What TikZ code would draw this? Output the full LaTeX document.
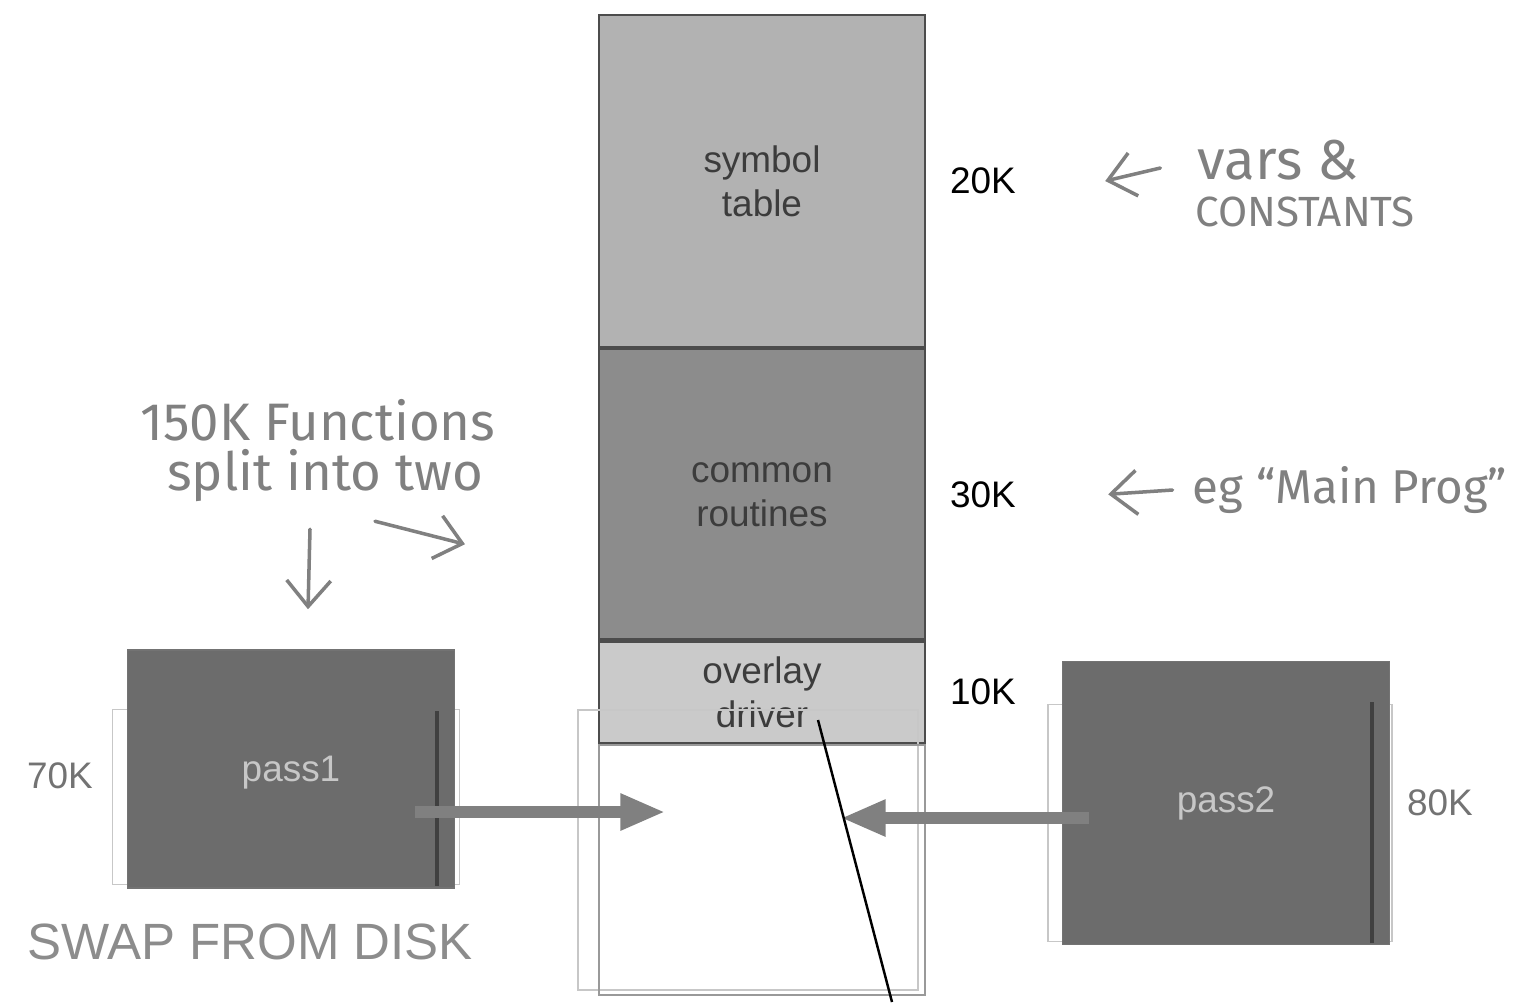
\documentclass[tikz,border=0pt]{standalone}
\usepackage{fontspec}
\setmainfont{Liberation Sans}
\newfontfamily\handfont{Fira Sans}
\usepackage{xcolor}
\usetikzlibrary{arrows.meta,positioning,calc}
\definecolor{symfill}{HTML}{B2B2B2}
\definecolor{comfill}{HTML}{8C8C8C}
\definecolor{ovlfill}{HTML}{CACACA}
\definecolor{passfill}{HTML}{6C6C6C}
\definecolor{inktext}{HTML}{3C3C3C}
\definecolor{pencil}{HTML}{808080}

\begin{document}
\begin{tikzpicture}[
    x=0.01cm, y=-0.01cm,
    every node/.style={font=\fontsize{10.5}{12.5}\selectfont},
    seg/.style={draw=black!70,line width=0.6pt,text=inktext,
                minimum width=3.25cm,align=center,inner sep=0pt},
    passbox/.style={draw=black!55,fill=passfill,text=black!22,
                    minimum width=3.27cm,inner sep=0pt},
    ghost/.style={draw=black!22,line width=0.5pt,inner sep=0pt},
    size/.style={text=black},
    swaparrow/.style={-{Triangle[length=4.5mm,width=3.4mm]},
                      line width=3.4pt,draw=black!50},
    hand/.style={font=\handfont\fontsize{15}{18}\selectfont,text=pencil},
    handarrow/.style={-{Straight Barb[length=2.6mm,width=4.4mm]},
                      draw=pencil,line width=1pt,line cap=round},
  ]
  \useasboundingbox[fill=white] (0,0) rectangle (1518,1002);

  % memory stack
  \node[seg,fill=symfill,minimum height=3.32cm] (symtab) at (762,181) {symbol\\table};
  \node[seg,fill=comfill,minimum height=2.9cm,below=0pt of symtab] (common) {common\\routines};
  \node[seg,fill=ovlfill,minimum height=1.01cm,below=0pt of common] (driver) {overlay\\driver};
  \node[ghost,minimum width=3.4cm,minimum height=2.8cm] (freeghost) at (748,850) {};
  \node[draw=black!40,line width=0.6pt,minimum width=3.25cm,minimum height=2.5cm,
        inner sep=0pt,below=0pt of driver] (freearea) {};

  \node[size,right=0.12cm of symtab] (k20) {20K};
  \node[size,right=0.12cm of common] (k30) {30K};
  \node[size,right=0.12cm of driver] (k10) {10K};

  % overlay passes
  \node[ghost,minimum width=3.47cm,minimum height=1.75cm] (ghost1) at (286,797) {};
  \node[ghost,minimum width=3.44cm,minimum height=2.37cm] (ghost2) at (1220,823) {};
  \node[passbox,minimum height=2.38cm,text depth=-0.2cm] (pass1) at (291,769) {pass1};
  \node[passbox,minimum height=2.83cm] (pass2) at (1226,803) {pass2};
  \draw[black!75,line width=1.2pt] ($(pass1.south east)+(-18,-3)$) -- ($(pass1.south east)+(-18,-178)$);
  \draw[black!75,line width=1.2pt] ($(pass2.south east)+(-18,-2)$) -- ($(pass2.south east)+(-18,-243)$);

  \node[text=black!55] (k70) at (60,776) {70K};
  \node[text=black!55] (k80) at (1440,803) {80K};

  \draw[swaparrow] ($(pass1.east)+(-40,43)$) -- ($(freearea.west |- pass1.east)+(67,43)$);
  \draw[swaparrow] ($(pass2.west)+(27,15)$) -- ($(freearea.east |- pass2.west)+(-85,15)$);

  \coordinate (pend) at (892,1002);
  \draw[black,line width=0.7pt] ($(driver.center)+(56,28)$) -- (pend);

  \node[font=\fontsize{14.5}{16}\selectfont,text=black!45] (swap) at (250,942) {SWAP FROM DISK};

  % pencil notes
  \node[hand] (funcs) at (318,420) {150K Functions};
  \node[hand] (split) at (325,476) {split into two};
  \draw[handarrow] ($(pass1.north)+(19,-120)$) -- ($(pass1.north)+(17,-40)$);
  \draw[handarrow] ($(pass1.north)+(84,-128)$) -- ($(pass1.north)+(174,-105)$);

  \node[hand,font=\handfont\fontsize{16}{19}\selectfont] (vars) at (1278,160) {vars \&};
  \node[hand,font=\handfont\fontsize{12}{14}\selectfont] (consts) at (1305,212) {CONSTANTS};
  \draw[handarrow] ($(vars.west)+(-25,8)$) -- ($(k20.east)+(77,0)$);

  \node[hand,font=\handfont\fontsize{13.5}{16}\selectfont] (mainprog) at (1350,490) {eg “Main Prog”};
  \draw[handarrow] ($(mainprog.west)+(-8,0)$) -- ($(k30.east)+(80,0)$);
\end{tikzpicture}
\end{document}
